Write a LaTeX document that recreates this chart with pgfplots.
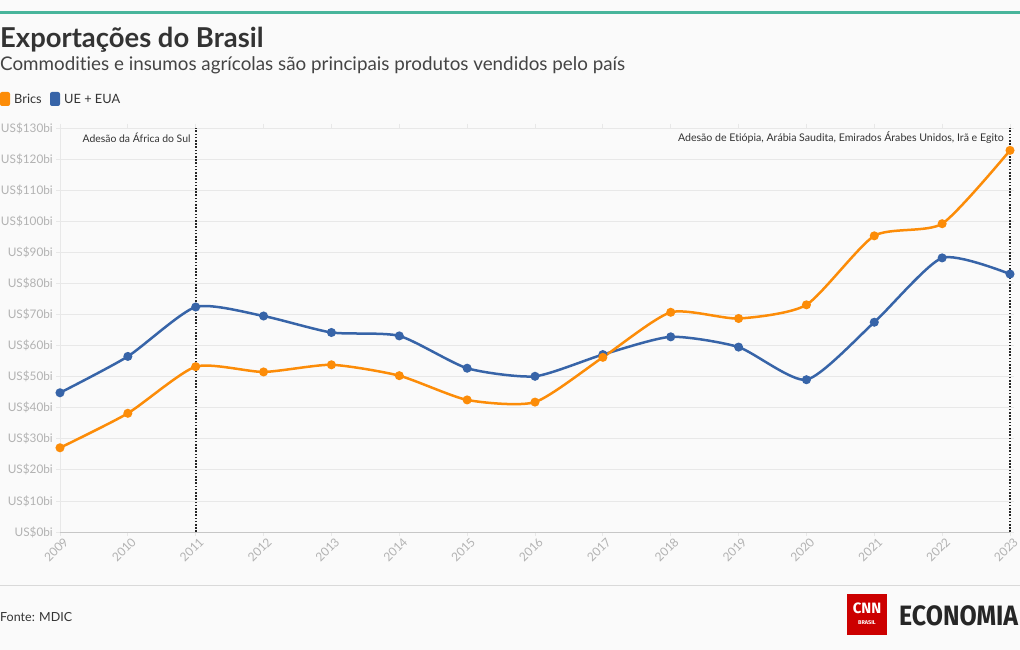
\documentclass[border=0pt]{standalone}
\usepackage{pgfplots}
\pgfplotsset{compat=1.18}
\usepackage{fontspec}
\setmainfont{Lato}[Ligatures=NoCommon]
\newfontfamily\logofont{Fira Sans}
\definecolor{bg}{RGB}{250,250,250}
\definecolor{topline}{RGB}{72,181,155}
\definecolor{titlec}{RGB}{51,51,51}
\definecolor{subc}{RGB}{68,68,68}
\definecolor{brics}{RGB}{252,140,8}
\definecolor{ueeua}{RGB}{55,100,168}
\definecolor{tickc}{RGB}{178,178,178}
\definecolor{gridc}{RGB}{232,232,232}
\definecolor{cnnred}{RGB}{204,0,0}
\definecolor{ecoteal}{RGB}{40,200,170}

\pgfplotstableread{
year value
2009 27.1
2010 38.2
2011 53.2
2012 51.5
2013 53.8
2014 50.3
2015 42.5
2016 41.8
2017 56.2
2018 70.7
2019 68.7
2020 73.1
2021 95.3
2022 99.2
2023 122.8
}\brics

\pgfplotstableread{
year value
2009 44.8
2010 56.5
2011 72.4
2012 69.5
2013 64.2
2014 63.1
2015 52.7
2016 50.1
2017 57.1
2018 62.8
2019 59.5
2020 49.0
2021 67.5
2022 88.2
2023 83.0
}\ueeua

\begin{document}
\begin{tikzpicture}[x=1pt,y=1pt]
\useasboundingbox (0,0) rectangle (1020,650);
\fill[bg] (0,0) rectangle (1020,650);
\fill[topline] (0,636) rectangle (1020,639);
\node[anchor=base west, inner sep=0, font=\fontsize{27.4}{31}\selectfont\bfseries, text=titlec] at (0,650-48) {Exportações do Brasil};
\node[anchor=base west, inner sep=0, font=\fontsize{18.8}{23}\selectfont, text=subc] at (0,650-71) {Commodities e insumos agrícolas são principais produtos vendidos pelo país};
% legend
\fill[brics, rounded corners=2pt] (0,650-106) rectangle (10,650-92);
\node[anchor=base west, inner sep=0, font=\fontsize{12.8}{15}\selectfont, text=titlec] at (14,650-104) {Brics};
\fill[ueeua, rounded corners=2pt] (50,650-106) rectangle (60,650-92);
\node[anchor=base west, inner sep=0, font=\fontsize{12.8}{15}\selectfont, text=titlec] at (64,650-104) {UE + EUA};

\begin{axis}[
  at={(60pt,118pt)}, anchor=south west,
  scale only axis, width=950pt, height=404pt,
  xmin=2009, xmax=2023, ymin=0, ymax=130,
  clip=false,
  axis line style={draw=none},
  xtick={2009,...,2023},
  xticklabels={2009,2010,2011,2012,2013,2014,2015,2016,2017,2018,2019,2020,2021,2022,2023},
  ytick={0,10,...,130},
  yticklabels={US\$0bi,US\$10bi,US\$20bi,US\$30bi,US\$40bi,US\$50bi,US\$60bi,US\$70bi,US\$80bi,US\$90bi,US\$100bi,US\$110bi,US\$120bi,US\$130bi},
  ymajorgrids, major grid style={gridc, line width=0.8pt},
  tick style={gridc, line width=0.8pt},
  tick align=outside, major tick length=4pt,
  xticklabel style={rotate=45, anchor=north east, font=\fontsize{12}{14}\selectfont, text=tickc, inner sep=0.5pt, xshift=2pt, yshift=-2pt},
  yticklabel style={anchor=east, font=\fontsize{11.8}{14}\selectfont, text=tickc, inner sep=1pt, xshift=-2pt},
]
% axis lines
\addplot[gridc, line width=0.8pt, forget plot] coordinates {(2009,0) (2009,130)};
\addplot[black!22, line width=0.8pt, forget plot] coordinates {(2009,0) (2023,0)};
% event lines
\addplot[black!85, line width=1.8pt, dash pattern=on 1.6pt off 1.6pt, forget plot] coordinates {(2011,0) (2011,130)};
\addplot[black!85, line width=1.8pt, dash pattern=on 1.6pt off 1.6pt, forget plot] coordinates {(2023,0) (2023,130)};
\node[anchor=east, inner sep=0, xshift=-5pt, font=\fontsize{10.4}{12}\selectfont, text=titlec] at (axis cs:2011,126.8) {Adesão da África do Sul};
\node[anchor=east, inner sep=0, xshift=-6pt, font=\fontsize{10.6}{12}\selectfont, text=titlec] at (axis cs:2023,126.8) {Adesão de Etiópia, Arábia Saudita, Emirados Árabes Unidos, Irã e Egito};
% series
\addplot[ueeua, line width=2.5pt, smooth, tension=0.38, mark=*, mark size=3.2pt, mark options={solid}] table[x=year, y=value] {\ueeua};
\addplot[brics, line width=2.5pt, smooth, tension=0.38, mark=*, mark size=3.2pt, mark options={solid}] table[x=year, y=value] {\brics};
\end{axis}

% footer
\draw[black!15, line width=1pt] (0,650-586) -- (1020,650-586);
\node[anchor=base west, inner sep=0, font=\fontsize{12.5}{15}\selectfont, text=titlec] at (0,650-622) {Fonte: MDIC};
% logo
\fill[cnnred] (847,650-635) rectangle (887,650-594);
\node[inner sep=0, font=\logofont\bfseries\fontsize{15}{16}\selectfont, text=white] at (867,650-608) {CNN};
\node[inner sep=0, font=\logofont\bfseries\fontsize{5.5}{6}\selectfont, text=white] at (867,650-623) {BRASIL};
\node[anchor=base west, inner sep=0, xscale=0.89, font=\logofont\bfseries\fontsize{28}{30}\selectfont, text=black!85] at (899,650-625.7) {ECONOMIA};
\end{tikzpicture}
\end{document}
